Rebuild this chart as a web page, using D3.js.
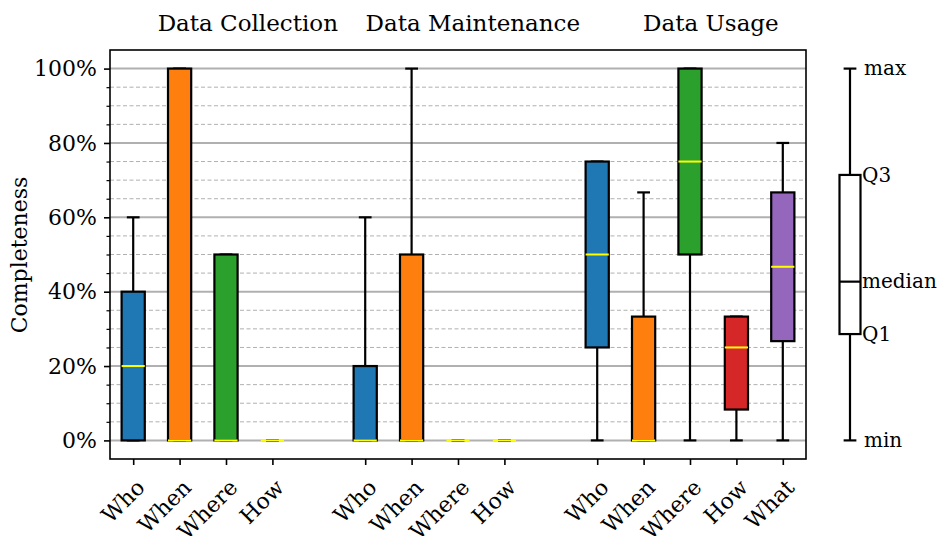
<!DOCTYPE html>
<html>
<head>
<meta charset="utf-8">
<script src="https://cdn.jsdelivr.net/npm/d3@7"></script>
<style>
  body { margin: 0; background: #fff; }
  svg text { font-family: "DejaVu Serif", "Liberation Serif", "Times New Roman", serif; fill: #000; }
</style>
</head>
<body>
<div id="chart"></div>
<script>
var width = 944;
var height = 536;

// categories and slot positions (gaps between the three groups)
var groups = ["Data Collection", "Data Maintenance", "Data Usage"];
var labels = ["Who", "When", "Where", "How", "Who", "When", "Where", "How", "Who", "When", "Where", "How", "What"];
var slots = [0, 1, 2, 3, 5, 6, 7, 8, 10, 11, 12, 13, 14];
var colors = ["#1f77b4", "#ff7f0e", "#2ca02c", "#d62728",
              "#1f77b4", "#ff7f0e", "#2ca02c", "#d62728",
              "#1f77b4", "#ff7f0e", "#2ca02c", "#d62728", "#9467bd"];

// box statistics in percent
var mins    = [0, 0, 0, 0,   0, 0, 0, 0,   0, 0, 0, 0, 0];
var q1s     = [0, 0, 0, 0,   0, 0, 0, 0,   25, 0, 50, 8.3, 26.7];
var medians = [20, 0, 0, 0,  0, 0, 0, 0,   50, 0, 75, 25, 46.7];
var q3s     = [40, 100, 50, 0, 20, 50, 0, 0, 75, 33.3, 100, 33.3, 66.7];
var maxs    = [60, 100, 50, 0, 60, 100, 0, 0, 75, 66.7, 100, 33.3, 80];

// explanatory box on the right
var keyValues = [0, 28.6, 42.7, 71.4, 100];
var keyLabels = ["min", "Q1", "median", "Q3", "max"];

var yTicks = [0, 20, 40, 60, 80, 100];
var yMinor = d3.range(0, 101, 5);

var data = labels.map(function(d, i) {
    return {label: d, slot: slots[i], color: colors[i],
            min: mins[i], q1: q1s[i], med: medians[i], q3: q3s[i], max: maxs[i]};
});

var plotL = 110, plotR = 806, plotT = 50, plotB = 459;

var xScale = d3.scaleLinear().domain([-0.5, 14.5]).range([plotL, plotR]);
var yScale = d3.scaleLinear().domain([-5, 105]).range([plotB, plotT]);

var svg = d3.select("#chart").append("svg")
    .attr("width", width)
    .attr("height", height);

// grid: dashed minor lines, solid major lines
svg.append("g").selectAll("line")
    .data(yMinor.filter(function(d) { return d % 20 !== 0; }))
    .enter().append("line")
    .attr("x1", plotL).attr("x2", plotR)
    .attr("y1", function(d) { return yScale(d); })
    .attr("y2", function(d) { return yScale(d); })
    .attr("stroke", "#b0b0b0")
    .attr("stroke-width", 1)
    .attr("stroke-dasharray", "4,2.5");

svg.append("g").selectAll("line")
    .data(yTicks)
    .enter().append("line")
    .attr("x1", plotL).attr("x2", plotR)
    .attr("y1", function(d) { return yScale(d); })
    .attr("y2", function(d) { return yScale(d); })
    .attr("stroke", "#b0b0b0")
    .attr("stroke-width", 2);

var boxW = (xScale(1) - xScale(0)) * 0.5;
var capW = boxW * 0.55;

var boxes = svg.append("g").selectAll("g")
    .data(data)
    .enter().append("g")
    .attr("transform", function(d) { return "translate(" + xScale(d.slot) + ",0)"; });

// whiskers
boxes.append("line")
    .attr("x1", 0).attr("x2", 0)
    .attr("y1", function(d) { return yScale(d.q3); })
    .attr("y2", function(d) { return yScale(d.max); })
    .attr("stroke", "#000").attr("stroke-width", 2.2);
boxes.append("line")
    .attr("x1", 0).attr("x2", 0)
    .attr("y1", function(d) { return yScale(d.q1); })
    .attr("y2", function(d) { return yScale(d.min); })
    .attr("stroke", "#000").attr("stroke-width", 2.2);
// caps
boxes.append("line")
    .attr("x1", -capW / 2).attr("x2", capW / 2)
    .attr("y1", function(d) { return yScale(d.max); })
    .attr("y2", function(d) { return yScale(d.max); })
    .attr("stroke", "#000").attr("stroke-width", 2.2);
boxes.append("line")
    .attr("x1", -capW / 2).attr("x2", capW / 2)
    .attr("y1", function(d) { return yScale(d.min); })
    .attr("y2", function(d) { return yScale(d.min); })
    .attr("stroke", "#000").attr("stroke-width", 2.2);
// box
boxes.append("rect")
    .attr("x", -boxW / 2)
    .attr("width", boxW)
    .attr("y", function(d) { return yScale(d.q3); })
    .attr("height", function(d) { return yScale(d.q1) - yScale(d.q3); })
    .attr("fill", function(d) { return d.color; })
    .attr("stroke", "#000")
    .attr("stroke-width", 2.2);
// median
boxes.append("line")
    .attr("x1", -boxW / 2).attr("x2", boxW / 2)
    .attr("y1", function(d) { return yScale(d.med); })
    .attr("y2", function(d) { return yScale(d.med); })
    .attr("stroke", "#ffff00").attr("stroke-width", 2);

// frame
svg.append("rect")
    .attr("x", plotL).attr("y", plotT)
    .attr("width", plotR - plotL).attr("height", plotB - plotT)
    .attr("fill", "none")
    .attr("stroke", "#000")
    .attr("stroke-width", 1.6);

// y axis
var yAxis = d3.axisLeft(yScale)
    .tickValues(yTicks)
    .tickSize(6)
    .tickPadding(7)
    .tickFormat(function(d) { return d + "%"; });
var yG = svg.append("g")
    .attr("transform", "translate(" + plotL + ",0)")
    .call(yAxis);
yG.select(".domain").remove();
yG.selectAll(".tick line").attr("stroke", "#000").attr("stroke-width", 1.6);
yG.selectAll(".tick text")
    .style("font-size", "22px")
    .attr("fill", "#000");

var yMinorAxis = d3.axisLeft(yScale)
    .tickValues(yMinor.filter(function(d) { return d % 20 !== 0; }))
    .tickSize(3.5)
    .tickFormat("");
var ymG = svg.append("g")
    .attr("transform", "translate(" + plotL + ",0)")
    .call(yMinorAxis);
ymG.select(".domain").remove();
ymG.selectAll(".tick line").attr("stroke", "#000").attr("stroke-width", 1.2);

// x axis
var xAxis = d3.axisBottom(xScale)
    .tickValues(slots)
    .tickSize(6)
    .tickFormat("");
var xG = svg.append("g")
    .attr("transform", "translate(0," + plotB + ")")
    .call(xAxis);
xG.select(".domain").remove();
xG.selectAll(".tick line").attr("stroke", "#000").attr("stroke-width", 1.6);

svg.append("g").selectAll("text")
    .data(data)
    .enter().append("text")
    .attr("transform", function(d) {
        return "translate(" + (xScale(d.slot) + 2) + "," + (plotB + 19) + ") rotate(-45)";
    })
    .attr("text-anchor", "end")
    .attr("dy", "0.7em")
    .style("font-size", "22px")
    .text(function(d) { return d.label; });

// y label
svg.append("text")
    .attr("transform", "translate(27," + 255 + ") rotate(-90)")
    .attr("text-anchor", "middle")
    .style("font-size", "22px")
    .text("Completeness");

// group titles
var groupPos = [2.47, 7.32, 12.45];
svg.append("g").selectAll("text")
    .data(groups)
    .enter().append("text")
    .attr("x", function(d, i) { return xScale(groupPos[i]); })
    .attr("y", 31)
    .attr("text-anchor", "middle")
    .style("font-size", "23px")
    .text(function(d) { return d; });

// key box on the right
var keyX = 850;
var key = svg.append("g");
key.append("line")
    .attr("x1", keyX).attr("x2", keyX)
    .attr("y1", yScale(keyValues[4])).attr("y2", yScale(keyValues[0]))
    .attr("stroke", "#000").attr("stroke-width", 2.2);
[keyValues[0], keyValues[4]].forEach(function(v) {
    key.append("line")
        .attr("x1", keyX - capW / 2).attr("x2", keyX + capW / 2)
        .attr("y1", yScale(v)).attr("y2", yScale(v))
        .attr("stroke", "#000").attr("stroke-width", 2.2);
});
key.append("rect")
    .attr("x", keyX - 10.5).attr("width", 21)
    .attr("y", yScale(keyValues[3]))
    .attr("height", yScale(keyValues[1]) - yScale(keyValues[3]))
    .attr("fill", "#fff").attr("stroke", "#000").attr("stroke-width", 2.2);
key.append("line")
    .attr("x1", keyX - 10.5).attr("x2", keyX + 10.5)
    .attr("y1", yScale(keyValues[2])).attr("y2", yScale(keyValues[2]))
    .attr("stroke", "#000").attr("stroke-width", 2.2);
key.selectAll("text.key")
    .data(keyLabels)
    .enter().append("text")
    .attr("class", "key")
    .attr("x", function(d, i) { return (i === 0 || i === 4) ? keyX + 14 : keyX + 12; })
    .attr("y", function(d, i) { return yScale(keyValues[i]); })
    .attr("dy", "0.33em")
    .style("font-size", "20px")
    .text(function(d) { return d; });
</script>
</body>
</html>
